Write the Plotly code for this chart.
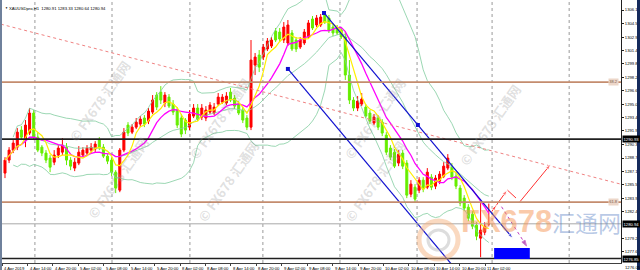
import plotly.graph_objects as go
import pandas as pd

# ---------------- data ----------------
opens = [1286.92,1288.45,1289.63,1289.98,1291.99,1290.81,1291.64,1294.00,1291.16,1289.98,
         1289.28,1288.69,1288.21,1289.04,1289.39,1289.98,1288.45,1287.51,1288.10,1289.04,
         1289.28,1289.63,1289.75,1290.81,1289.98,1288.92,1288.45,1287.03,1284.91,1289.63,
         1292.58,1291.75,1292.34,1292.70,1293.41,1293.05,1294.11,1296.12,1296.47,1295.18,
         1295.88,1295.06,1294.35,1293.41,1293.17,1292.34,1293.64,1294.59,1293.52,1293.41,
         1294.11,1294.00,1295.06,1295.29,1295.18,1296.47,1295.77,1295.06,1294.35,1293.41,
         1292.34,1299.66,1300.84,1300.60,1301.55,1301.90,1303.67,1303.55,1302.61,1302.26,
         1303.44,1302.61,1301.78,1302.26,1302.96,1305.09,1304.38,1304.38,1305.68,1305.21,
         1304.14,1304.03,1303.79,1302.96,1298.48,1295.53,1294.59,1295.06,1294.70,1294.00,
         1292.82,1293.41,1292.93,1291.40,1289.87,1289.39,1288.10,1289.28,1288.10,1284.44,
         1285.26,1284.91,1286.09,1285.26,1286.44,1285.38,1285.97,1286.56,1287.51,1287.62,
         1286.56,1285.15,1283.97,1282.90,1282.08,1280.78,1279.25,1279.95,1280.91]
highs = [1288.80,1289.98,1290.81,1292.23,1292.46,1293.17,1294.59,1294.35,1291.75,1290.22,
         1289.63,1289.04,1289.63,1290.22,1291.05,1290.46,1288.80,1288.69,1290.10,1289.98,
         1290.22,1290.46,1290.69,1291.16,1290.34,1289.16,1288.80,1287.27,1289.87,1292.23,
         1292.93,1292.70,1293.41,1293.64,1293.76,1294.59,1296.12,1296.47,1297.18,1296.47,
         1296.24,1295.53,1294.70,1293.88,1293.41,1294.35,1295.06,1295.06,1295.06,1294.82,
         1295.29,1295.18,1296.36,1296.24,1296.47,1296.95,1296.12,1295.41,1294.70,1293.76,
         1302.61,1301.08,1301.43,1302.14,1302.85,1302.96,1304.03,1304.03,1304.73,1304.97,
         1303.79,1302.96,1302.96,1303.91,1304.97,1305.44,1305.56,1305.68,1305.80,1305.56,
         1304.50,1304.38,1304.03,1303.55,1300.25,1295.88,1296.00,1296.36,1295.06,1294.35,
         1293.88,1293.76,1293.29,1291.75,1290.22,1289.75,1289.63,1289.63,1288.45,1286.09,
         1285.62,1286.44,1286.44,1287.51,1286.80,1286.68,1287.15,1288.21,1289.16,1288.10,
         1287.03,1285.50,1284.32,1283.26,1282.43,1281.13,1283.38,1281.13,1283.33]
lows = [1286.33,1288.10,1289.28,1289.63,1290.81,1289.98,1291.40,1290.81,1289.39,1288.92,
        1288.10,1287.03,1287.86,1288.69,1289.04,1287.86,1287.27,1287.15,1287.86,1288.80,
        1288.92,1289.28,1289.39,1289.63,1288.69,1287.98,1286.56,1284.56,1284.67,1289.39,
        1291.28,1291.52,1292.11,1292.34,1292.34,1292.70,1293.88,1294.35,1295.06,1294.70,
        1294.59,1293.76,1292.23,1291.16,1291.52,1291.99,1293.41,1293.05,1293.17,1293.05,
        1293.88,1293.76,1294.82,1295.06,1294.94,1295.29,1294.47,1293.76,1292.82,1291.99,
        1291.99,1298.48,1298.83,1300.25,1301.31,1301.67,1302.37,1302.37,1302.26,1301.90,
        1301.31,1301.19,1301.55,1302.02,1302.73,1303.79,1304.14,1304.14,1304.50,1303.44,
        1303.08,1303.20,1302.73,1297.90,1295.06,1294.23,1294.23,1294.82,1293.41,1292.70,
        1292.58,1291.99,1291.28,1289.04,1288.45,1287.51,1287.74,1287.39,1283.97,1284.08,
        1283.49,1284.56,1284.67,1285.03,1284.91,1285.03,1285.62,1286.33,1287.27,1286.09,
        1285.03,1283.02,1282.43,1281.25,1280.31,1279.01,1277.00,1279.60,1280.64]
closes = [1288.45,1289.63,1290.46,1291.75,1291.16,1292.58,1294.00,1291.16,1289.63,1289.28,
          1288.45,1287.62,1289.04,1289.87,1290.22,1288.45,1287.74,1288.21,1289.39,1289.63,
          1289.87,1289.98,1290.34,1289.98,1288.92,1288.33,1287.03,1285.15,1289.63,1291.75,
          1291.64,1292.34,1292.93,1293.29,1292.70,1294.23,1295.53,1294.70,1295.53,1296.12,
          1294.82,1294.11,1292.58,1291.52,1291.99,1293.88,1294.59,1293.29,1294.59,1294.35,
          1294.94,1294.70,1295.88,1295.88,1296.00,1295.53,1294.82,1294.00,1293.17,1292.34,
          1300.25,1300.60,1299.42,1301.78,1302.49,1302.61,1302.61,1302.73,1304.14,1304.38,
          1301.55,1301.55,1302.61,1303.55,1304.62,1304.03,1305.21,1305.32,1304.73,1303.79,
          1303.44,1303.44,1302.96,1298.48,1295.53,1294.59,1295.41,1295.65,1293.64,1293.05,
          1293.52,1292.34,1291.64,1289.39,1288.80,1287.74,1289.16,1287.74,1284.32,1285.62,
          1283.85,1286.09,1285.03,1287.03,1285.26,1286.33,1286.80,1287.74,1288.69,1286.44,
          1285.38,1283.38,1282.79,1281.61,1280.66,1279.48,1280.19,1280.66,1280.94]

time_labels = ["4 Apr 2019", "4 Apr 14:00", "4 Apr 20:00", "5 Apr 02:00", "5 Apr 08:00",
               "5 Apr 14:00", "5 Apr 20:00", "8 Apr 02:00", "8 Apr 08:00", "8 Apr 14:00",
               "8 Apr 20:00", "9 Apr 02:00", "9 Apr 08:00", "9 Apr 14:00", "9 Apr 20:00",
               "10 Apr 02:00", "10 Apr 08:00", "10 Apr 14:00", "10 Apr 20:00", "11 Apr 02:00"]
# 1280.80 is hidden behind the highlighted bid label in the reference
price_ticks = [1306.15, 1304.55, 1302.95, 1301.40, 1299.80, 1298.20, 1296.65, 1295.05,
               1293.45, 1291.90, 1290.30, 1288.70, 1287.15, 1285.55, 1283.95, 1282.40,
               1279.25, 1277.65, 1276.05]

black_levels = [1290.93, 1276.85]
fib_levels = [1297.65, 1283.50]
fib_tags = ["38.2", "61.8"]
bid_price = 1280.94

# drawn objects (bar index, price)
chan_upper_x = [77.8, 123.9]
chan_upper_y = [1305.80, 1279.20]
chan_anchor_x = [77.8, 100.7, 69.0]
chan_anchor_y = [1305.80, 1292.59, 1299.20]
chan_lower_x = [69.0, 110.0]
chan_lower_y = [1299.20, 1275.54]
trend_x = [-1.0, 150.0]
trend_y = [1304.48, 1285.64]
zig_x = [118.7, 119.9, 122.5, 125.6, 133.1]
zig_y = [1282.37, 1283.16, 1284.93, 1283.55, 1287.96]
down_x = [121.1, 127.2]
down_y = [1282.96, 1278.33]
box_x = [119.3, 128.0]
box_y = [1276.79, 1278.09]

# ---------------- figure ----------------
X0, X1 = -0.73, 150.24
Y0, Y1 = 1276.32, 1307.33
W, H = 640, 270
ML, MR, MT, MB = 2, 19, 0, 7
PW = W - ML - MR
PH = H - MT - MB


def px_x(p):
    return (p - ML) / PW


def px_y(p):
    return 1 - (p - MT) / PH


def py_price(v):
    return (v - Y0) / (Y1 - Y0)


idx = list(range(len(closes)))
s = pd.Series(closes)
ma_fast = s.rolling(5, min_periods=1).mean()
ma_slow = s.rolling(10, min_periods=1).mean()
mid = s.rolling(20, min_periods=3).mean()
sd = s.rolling(20, min_periods=3).std(ddof=0)
bb_up = mid + 2 * sd
bb_dn = mid - 2 * sd

fig = go.Figure()

bb_col = "rgb(130,205,160)"
for arr in (bb_up, mid, bb_dn):
    fig.add_trace(go.Scatter(x=idx, y=arr, mode="lines",
                             line=dict(color=bb_col, width=0.8), hoverinfo="skip"))

fig.add_trace(go.Candlestick(
    x=idx, open=opens, high=highs, low=lows, close=closes,
    increasing=dict(line=dict(color="#ff0000", width=1), fillcolor="#ff0000"),
    decreasing=dict(line=dict(color="#66ee00", width=1), fillcolor="#66ee00"),
    whiskerwidth=0))

fig.add_trace(go.Scatter(x=idx, y=ma_slow, mode="lines",
                         line=dict(color="#ff00ff", width=1.3)))
fig.add_trace(go.Scatter(x=idx, y=ma_fast, mode="lines",
                         line=dict(color="#ffee00", width=1.2)))

# pink dotted trendline
fig.add_trace(go.Scatter(x=trend_x, y=trend_y, mode="lines",
                         line=dict(color="rgb(240,130,130)", width=1, dash="dot")))
# blue channel
fig.add_trace(go.Scatter(x=chan_upper_x, y=chan_upper_y, mode="lines+markers",
                         line=dict(color="#1010d0", width=1.2),
                         marker=dict(symbol=["circle", "arrow"], size=[0, 6],
                                     angleref="previous", color="#1010d0")))
fig.add_trace(go.Scatter(x=chan_lower_x, y=chan_lower_y, mode="lines",
                         line=dict(color="#1010d0", width=1.2)))
fig.add_trace(go.Scatter(x=chan_anchor_x, y=chan_anchor_y, mode="markers",
                         marker=dict(symbol="square", size=4, color="#1010d0")))
# red projected zigzag
fig.add_trace(go.Scatter(x=zig_x, y=zig_y, mode="lines+markers",
                         line=dict(color="#ff3030", width=1),
                         marker=dict(symbol=["circle", "arrow", "arrow", "circle", "arrow"],
                                     size=[0, 6, 6, 0, 6], angleref="previous",
                                     color="#ff3030")))
# magenta dotted down arrow
fig.add_trace(go.Scatter(x=down_x, y=down_y, mode="lines+markers",
                         line=dict(color="#c040c0", width=1, dash="dot"),
                         marker=dict(symbol=["circle", "arrow"], size=[0, 6],
                                     angleref="previous", color="#a020a0")))

shapes = []
# vertical dotted grid
for g in [7.3, 26.1, 45.1, 62.9, 81.7, 100.5, 118.8, 137.6]:
    shapes.append(dict(type="line", xref="x", yref="paper", x0=g, x1=g, y0=0, y1=1,
                       line=dict(color="#9a9a9a", width=1, dash="dot"), layer="below"))
for lv in black_levels:
    shapes.append(dict(type="line", xref="paper", yref="y", x0=0, x1=1, y0=lv, y1=lv,
                       line=dict(color="#202020", width=1.6)))
for lv in fib_levels:
    shapes.append(dict(type="line", xref="paper", yref="y", x0=0, x1=1, y0=lv, y1=lv,
                       line=dict(color="rgb(196,140,110)", width=1.8)))
shapes.append(dict(type="line", xref="paper", yref="y", x0=0, x1=1, y0=bid_price, y1=bid_price,
                   line=dict(color="#a8a8a8", width=1)))
shapes.append(dict(type="rect", xref="x", yref="y", x0=box_x[0], x1=box_x[1],
                   y0=box_y[0], y1=box_y[1], fillcolor="#0000ff", line=dict(width=0)))
# logo ring
shapes.append(dict(type="circle", xref="paper", yref="paper",
                   x0=px_x(419), x1=px_x(458), y0=px_y(259), y1=px_y(221),
                   line=dict(color="rgba(245,180,130,0.5)", width=5)))
shapes.append(dict(type="circle", xref="paper", yref="paper",
                   x0=px_x(428), x1=px_x(449), y0=px_y(250), y1=px_y(230),
                   line=dict(color="rgba(170,170,170,0.4)", width=3)))
# frame edges
shapes.append(dict(type="rect", xref="paper", yref="paper", x0=px_x(0), x1=px_x(2),
                   y0=px_y(270), y1=px_y(0), fillcolor="#6f819c", line=dict(width=0)))
shapes.append(dict(type="rect", xref="paper", yref="paper", x0=px_x(637), x1=px_x(640),
                   y0=px_y(270), y1=px_y(0), fillcolor="#152a5c", line=dict(width=0)))

ann = []
tick_font = dict(family="Liberation Sans, Arial, sans-serif", size=4.2, color="#000000")
# x labels
lab_pos = [-0.7 + 6.2 * k for k in range(len(time_labels))]
for p, t in zip(lab_pos, time_labels):
    ann.append(dict(x=p, y=0, xref="x", yref="paper", text=t, showarrow=False,
                    xanchor="left", yanchor="top", yshift=-1, font=tick_font))
# bottom-most price label (below the drawn range)
ann.append(dict(x=1, y=py_price(price_ticks[-1]), xref="paper", yref="paper",
                text="%.2f" % price_ticks[-1], showarrow=False, xanchor="left",
                yanchor="top", yshift=2, xshift=2, font=tick_font))
# highlighted price labels
for lv in black_levels + [bid_price]:
    ann.append(dict(x=1, y=lv, xref="paper", yref="y", text="%.2f" % lv, showarrow=False,
                    xanchor="left", xshift=1, bgcolor="#000000", borderpad=0.5,
                    font=dict(family="Liberation Sans, Arial", size=4.2, color="#ffffff")))
for lv, tg in zip(fib_levels, fib_tags):
    ann.append(dict(x=1, y=lv, xref="paper", yref="y", text=tg, showarrow=False,
                    xanchor="right", xshift=-2, bgcolor="#ecd6c8", borderpad=0.3,
                    font=dict(family="Liberation Sans, Arial", size=4, color="#7a5a48")))
# header
ann.append(dict(x=px_x(3), y=px_y(4), xref="paper", yref="paper", text="▼", showarrow=False,
                xanchor="left", font=dict(size=3, color="#000")))
ann.append(dict(x=px_x(7), y=px_y(4), xref="paper", yref="paper",
                text="XAUUSDpro,H1  1280.91 1283.33 1280.64 1280.94", showarrow=False,
                xanchor="left", font=tick_font))
# watermarks
wm_font = dict(family="Noto Sans CJK SC", size=13, color="rgba(150,150,150,0.30)")
for cx, cy in [(62, 55), (220, 72), (375, 72), (528, 78), (80, 225), (228, 228), (375, 228)]:
    ann.append(dict(x=px_x(cx), y=px_y(cy), xref="paper", yref="paper",
                    text="<b>© FX678 汇通网</b>", textangle=-55, showarrow=False,
                    font=wm_font))
ann.append(dict(x=px_x(459), y=px_y(241), xref="paper", yref="paper", text="<b>FX678</b>",
                showarrow=False, xanchor="left",
                font=dict(family="Liberation Sans Narrow, Liberation Sans, sans-serif",
                          size=31, color="rgba(245,150,85,0.5)")))
ann.append(dict(x=px_x(550), y=px_y(241), xref="paper", yref="paper", text="汇通网",
                showarrow=False, xanchor="left",
                font=dict(family="Noto Sans CJK SC", size=23, color="rgba(95,135,200,0.45)")))

fig.update_layout(
    width=W, height=H, margin=dict(l=ML, r=MR, t=MT, b=MB),
    paper_bgcolor="white", plot_bgcolor="white", showlegend=False,
    shapes=shapes, annotations=ann,
    xaxis=dict(range=[X0, X1], showgrid=False, zeroline=False, rangeslider=dict(visible=False),
               showline=True, linecolor="#404040", linewidth=1, tickmode="array",
               tickvals=lab_pos, showticklabels=False, ticks="outside", ticklen=2,
               tickcolor="#404040"),
    yaxis=dict(range=[Y0, Y1], side="right", showgrid=False, zeroline=False,
               showline=True, linecolor="#202020", linewidth=1, tickmode="array",
               tickvals=price_ticks, ticktext=["%.2f" % v for v in price_ticks],
               ticks="outside", ticklen=2, tickcolor="#202020", tickfont=tick_font),
)

fig.write_html("out.html")
